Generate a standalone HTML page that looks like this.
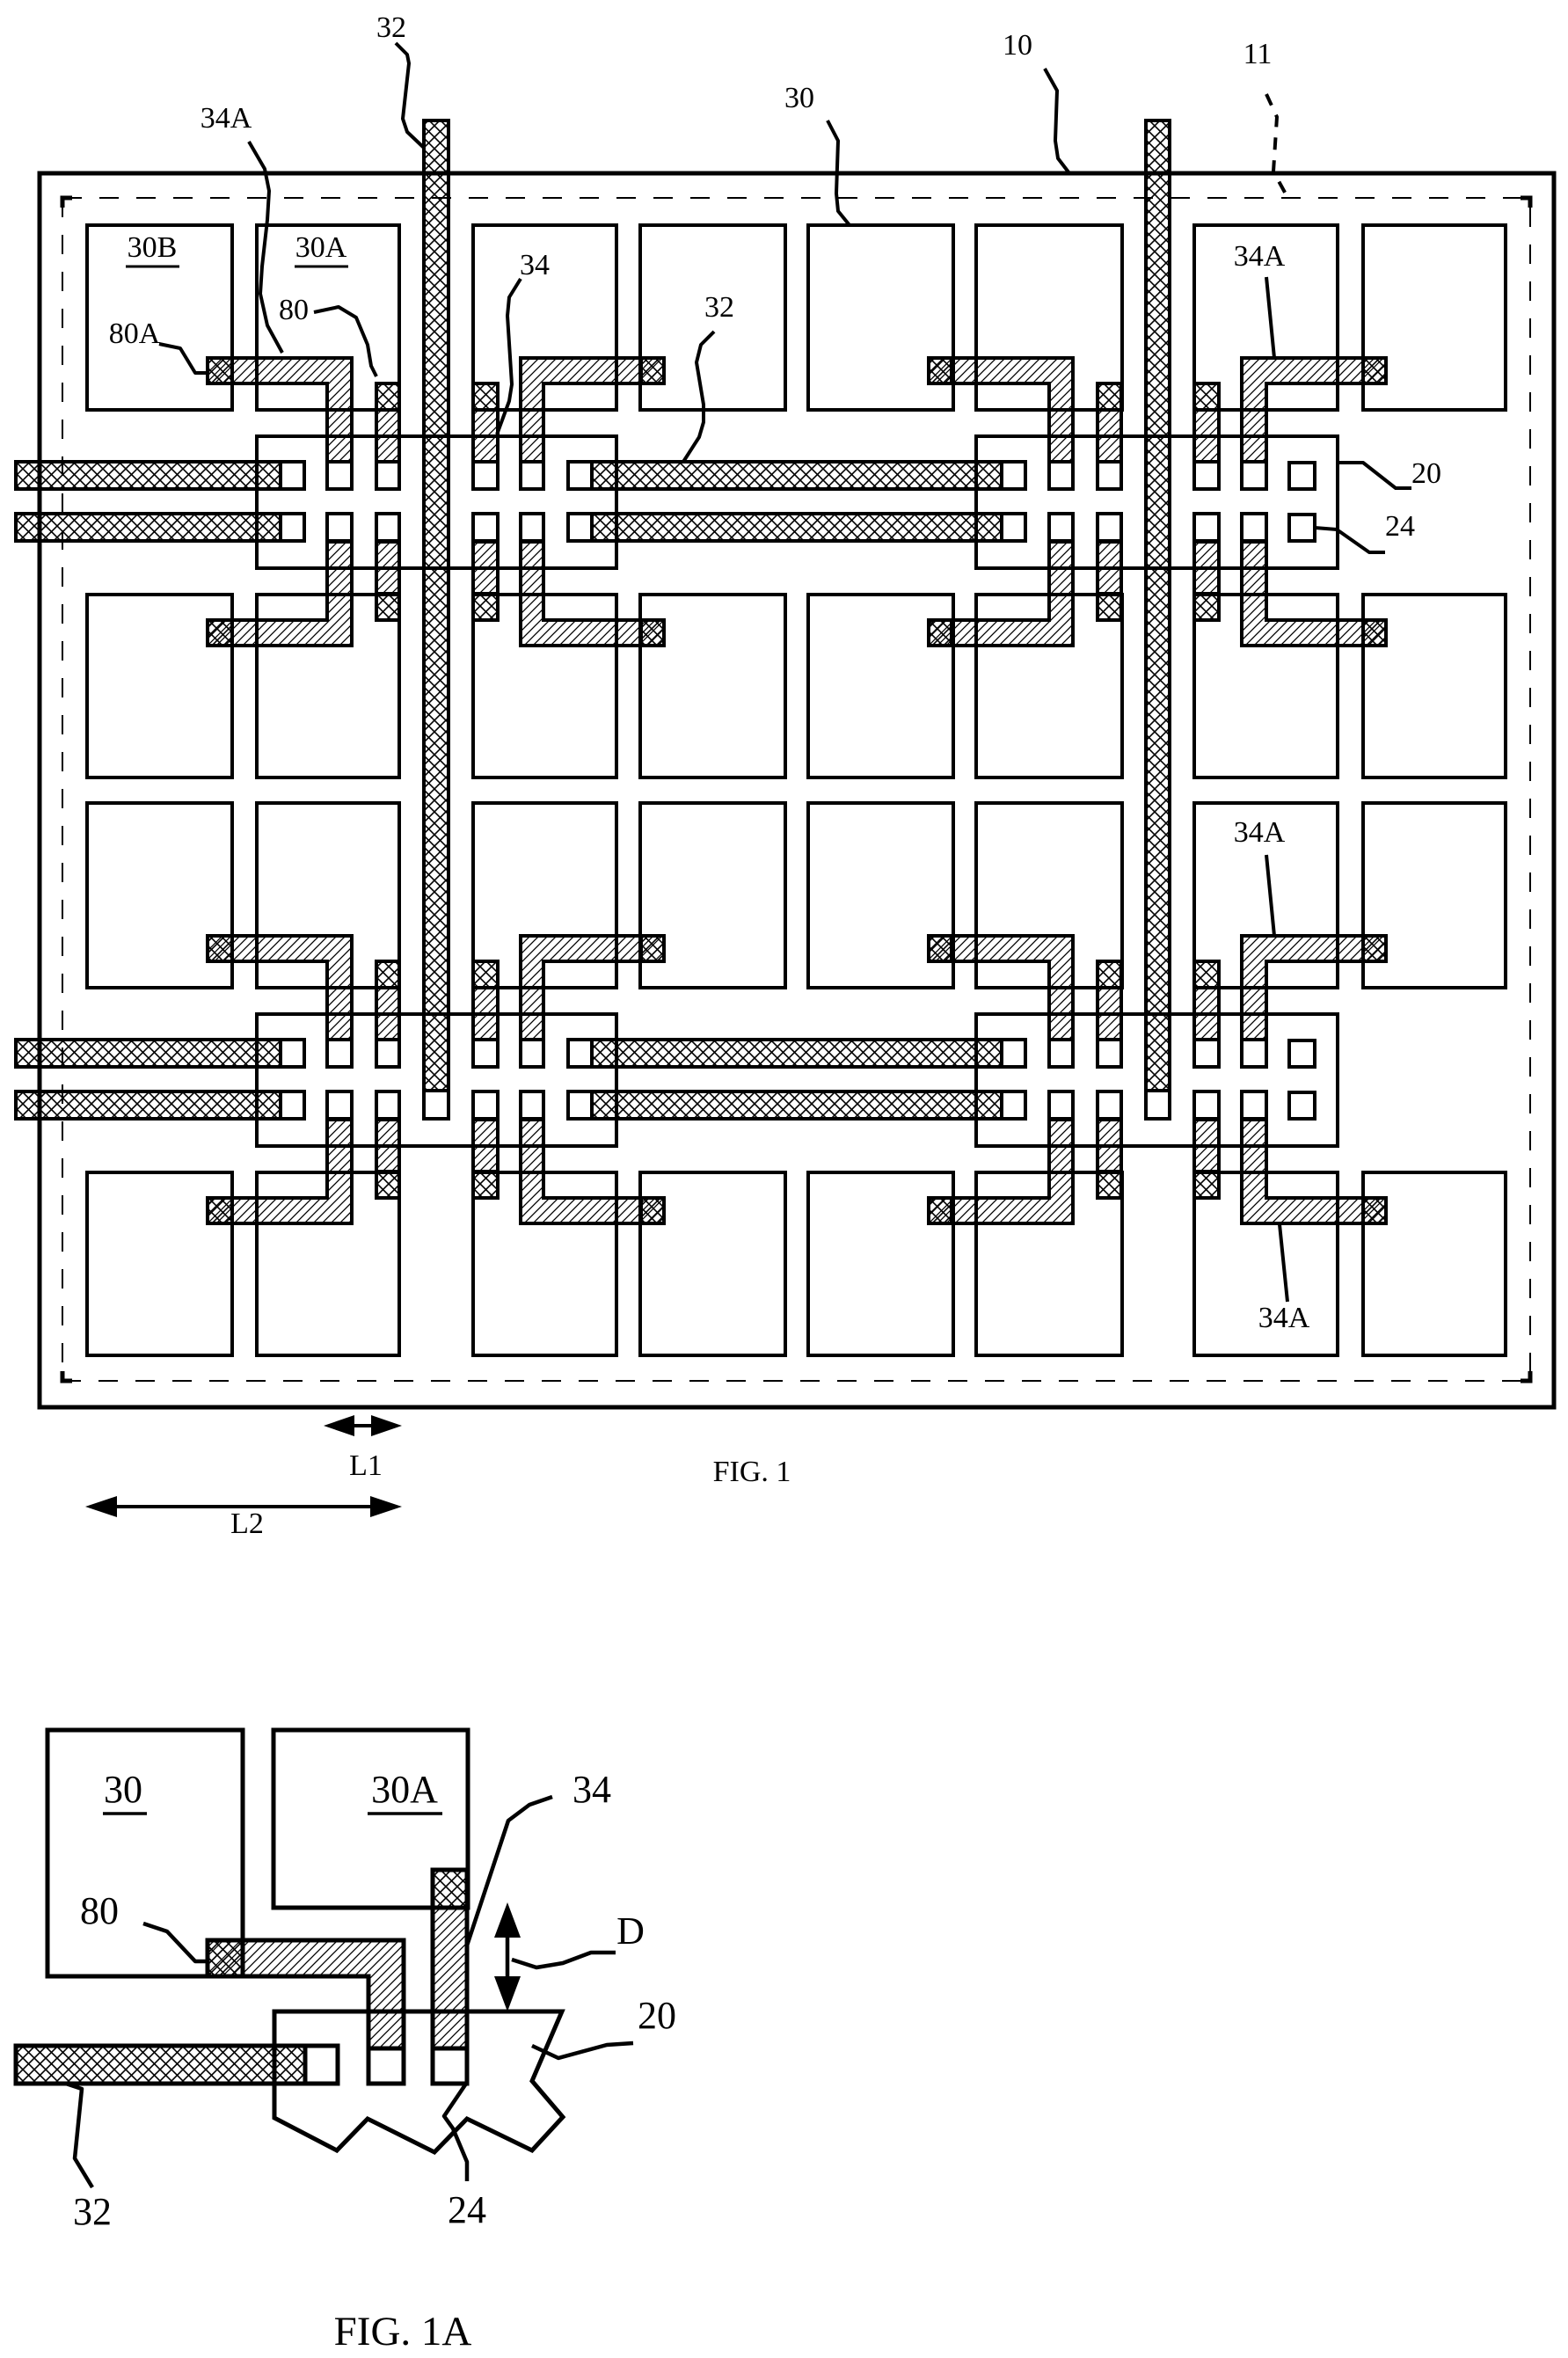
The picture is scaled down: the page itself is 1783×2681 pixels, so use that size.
<!DOCTYPE html>
<html><head><meta charset="utf-8"><style>
html,body{margin:0;padding:0;background:#fff;}
svg{display:block;}
text{font-family:"Liberation Serif",serif;fill:#000;}
</style></head><body>
<svg width="1783" height="2681" viewBox="0 0 1783 2681" xmlns="http://www.w3.org/2000/svg">
<defs>
<pattern id="h" patternUnits="userSpaceOnUse" width="10" height="10">
<path d="M-2,12 L12,-2 M-2,2 L2,-2 M8,12 L12,8" stroke="#000" stroke-width="1.3"/>
</pattern>
<pattern id="x" patternUnits="userSpaceOnUse" width="13" height="13">
<path d="M0,0 L13,13 M13,0 L0,13" stroke="#000" stroke-width="1.6"/>
</pattern>
<g id="half">
<!-- boxes rows -->
<g fill="#fff" stroke="#000" stroke-width="4">
<rect x="99" y="256" width="165" height="210"/><rect x="292" y="256" width="162" height="210"/><rect x="538" y="256" width="163" height="210"/><rect x="728" y="256" width="165" height="210"/><rect x="919" y="256" width="165" height="210"/><rect x="1110" y="256" width="166" height="210"/><rect x="1358" y="256" width="163" height="210"/><rect x="1550" y="256" width="162" height="210"/>
<rect x="99" y="676" width="165" height="208"/><rect x="292" y="676" width="162" height="208"/><rect x="538" y="676" width="163" height="208"/><rect x="728" y="676" width="165" height="208"/><rect x="919" y="676" width="165" height="208"/><rect x="1110" y="676" width="166" height="208"/><rect x="1358" y="676" width="163" height="208"/><rect x="1550" y="676" width="162" height="208"/>
</g>
<g fill="none" stroke="#000" stroke-width="4">
<rect x="292" y="496" width="409" height="150"/><rect x="1110" y="496" width="411" height="150"/>
</g>
<g stroke="#000" stroke-width="4">
<!-- upper gates -->
<path d="M236,407 H400 V525 H372 V436 H236 Z" fill="url(#h)"/><rect x="236" y="407" width="28" height="29" fill="url(#x)"/>
<rect x="428" y="436" width="26" height="30" fill="url(#x)"/><rect x="428" y="466" width="26" height="59" fill="url(#h)"/>
<rect x="538" y="436" width="28" height="30" fill="url(#x)"/><rect x="538" y="466" width="28" height="59" fill="url(#h)"/>
<path d="M755,407 H592 V525 H618 V436 H755 Z" fill="url(#h)"/><rect x="729" y="407" width="26" height="29" fill="url(#x)"/>
<path d="M1056,407 H1220 V525 H1193 V436 H1056 Z" fill="url(#h)"/><rect x="1056" y="407" width="26" height="29" fill="url(#x)"/>
<rect x="1248" y="436" width="27" height="30" fill="url(#x)"/><rect x="1248" y="466" width="27" height="59" fill="url(#h)"/>
<rect x="1358" y="436" width="28" height="30" fill="url(#x)"/><rect x="1358" y="466" width="28" height="59" fill="url(#h)"/>
<path d="M1576,407 H1412 V525 H1440 V436 H1576 Z" fill="url(#h)"/><rect x="1550" y="407" width="26" height="29" fill="url(#x)"/>
<!-- lower gates -->
<path d="M236,734 H400 V616 H372 V705 H236 Z" fill="url(#h)"/><rect x="236" y="705" width="28" height="29" fill="url(#x)"/>
<rect x="428" y="675" width="26" height="30" fill="url(#x)"/><rect x="428" y="616" width="26" height="59" fill="url(#h)"/>
<rect x="538" y="675" width="28" height="30" fill="url(#x)"/><rect x="538" y="616" width="28" height="59" fill="url(#h)"/>
<path d="M755,734 H592 V616 H618 V705 H755 Z" fill="url(#h)"/><rect x="729" y="705" width="26" height="29" fill="url(#x)"/>
<path d="M1056,734 H1220 V616 H1193 V705 H1056 Z" fill="url(#h)"/><rect x="1056" y="705" width="26" height="29" fill="url(#x)"/>
<rect x="1248" y="675" width="27" height="30" fill="url(#x)"/><rect x="1248" y="616" width="27" height="59" fill="url(#h)"/>
<rect x="1358" y="675" width="28" height="30" fill="url(#x)"/><rect x="1358" y="616" width="28" height="59" fill="url(#h)"/>
<path d="M1576,734 H1412 V616 H1440 V705 H1576 Z" fill="url(#h)"/><rect x="1550" y="705" width="26" height="29" fill="url(#x)"/>
<!-- contacts -->
<g fill="#fff">
<rect x="372" y="525" width="28" height="31"/><rect x="428" y="525" width="26" height="31"/><rect x="538" y="525" width="28" height="31"/><rect x="592" y="525" width="26" height="31"/>
<rect x="1193" y="525" width="27" height="31"/><rect x="1248" y="525" width="27" height="31"/><rect x="1358" y="525" width="28" height="31"/><rect x="1412" y="525" width="28" height="31"/><rect x="1466" y="526" width="29" height="30"/>
<rect x="372" y="584" width="28" height="31"/><rect x="428" y="584" width="26" height="31"/><rect x="538" y="584" width="28" height="31"/><rect x="592" y="584" width="26" height="31"/>
<rect x="1193" y="584" width="27" height="31"/><rect x="1248" y="584" width="27" height="31"/><rect x="1358" y="584" width="28" height="31"/><rect x="1412" y="584" width="28" height="31"/><rect x="1466" y="585" width="29" height="30"/>
<rect x="319" y="525" width="27" height="31"/><rect x="319" y="584" width="27" height="31"/>
<rect x="646" y="525" width="27" height="31"/><rect x="646" y="584" width="27" height="31"/>
<rect x="1139" y="525" width="27" height="31"/><rect x="1139" y="584" width="27" height="31"/>
</g>
<rect x="18" y="525" width="301" height="31" fill="url(#x)"/><rect x="18" y="584" width="301" height="31" fill="url(#x)"/>
<rect x="673" y="525" width="466" height="31" fill="url(#x)"/><rect x="673" y="584" width="466" height="31" fill="url(#x)"/>
</g>
</g>
</defs>

<!-- FIG 1 -->
<rect x="45" y="197" width="1722" height="1403" fill="none" stroke="#000" stroke-width="5"/>
<rect x="71" y="225" width="1669" height="1345" fill="none" stroke="#000" stroke-width="2" stroke-dasharray="22 20"/>
<path d="M71,236 V225 H82 M1729,225 H1740 V236 M1740,1559 V1570 H1729 M82,1570 H71 V1559" fill="none" stroke="#000" stroke-width="5"/>
<use href="#half"/>
<use href="#half" transform="translate(0,657)"/>
<g stroke="#000" stroke-width="4">
<rect x="482" y="137" width="28" height="1103" fill="url(#x)"/><rect x="482" y="1240" width="28" height="32" fill="#fff"/>
<rect x="1303" y="137" width="27" height="1103" fill="url(#x)"/><rect x="1303" y="1240" width="27" height="32" fill="#fff"/>
</g>

<!-- leaders fig1 -->
<g fill="none" stroke="#000" stroke-width="4" stroke-linejoin="round">
<path d="M450,49 L463,62 L465,72 L458,135 L463,150 L482,168"/>
<path d="M283,161 L301,192 L306,217 L304,250 L298,303 L296,334 L304,370 L321,401"/>
<path d="M941,137 L953,160 L951,220 L953,240 L966,256"/>
<path d="M592,317 L579,338 L577,359 L582,437 L579,456 L565,494"/>
<path d="M812,377 L797,392 L792,412 L800,460 L800,480 L795,497 L777,525"/>
<path d="M357,355 L385,349 L405,361 L418,392 L422,416 L428,428"/>
<path d="M181,391 L205,396 L222,424 L236,424"/>
<path d="M1188,78 L1202,103 L1200,160 L1203,180 L1216,197"/>
<path d="M1440,107 L1452,133 L1448,195 L1465,226" stroke-dasharray="14 12"/>
<path d="M1440,315 L1449,407"/>
<path d="M1522,526 L1550,526 L1587,555 L1605,555"/>
<path d="M1495,600 L1520,602 L1557,628 L1575,628"/>
<path d="M1440,972 L1449,1064"/>
<path d="M1455,1392 L1464,1480"/>
<path d="M390,1621 L435,1621 M110,1713 L440,1713"/>
</g>
<g fill="#000">
<path d="M368,1621 L403,1609 L403,1633 Z"/><path d="M457,1621 L422,1609 L422,1633 Z"/>
<path d="M97,1713 L133,1701 L133,1725 Z"/><path d="M457,1713 L421,1701 L421,1725 Z"/>
</g>
<g font-size="34" text-anchor="middle">
<text x="445" y="42">32</text>
<text x="257" y="145">34A</text>
<text x="173" y="292">30B</text>
<text x="365" y="292">30A</text>
<text x="153" y="390">80A</text>
<text x="334" y="363">80</text>
<text x="608" y="312">34</text>
<text x="818" y="360">32</text>
<text x="909" y="122">30</text>
<text x="1157" y="62">10</text>
<text x="1430" y="72">11</text>
<text x="1432" y="302">34A</text>
<text x="1622" y="549">20</text>
<text x="1592" y="609">24</text>
<text x="1432" y="957">34A</text>
<text x="1460" y="1509">34A</text>
<text x="416" y="1677">L1</text>
<text x="281" y="1743">L2</text>
<text x="855" y="1684">FIG. 1</text>
</g>
<g stroke="#000" stroke-width="3"><path d="M143,303 H204 M335,303 H396"/></g>

<!-- FIG 1A -->
<g stroke="#000" stroke-width="5" stroke-linejoin="miter">
<rect x="54" y="1967" width="222" height="280" fill="#fff"/>
<rect x="311" y="1967" width="221" height="202" fill="#fff"/>
<path d="M312,2287 L639,2287 L605,2366 L640,2407 L605,2445 L531,2409 L494,2447 L418,2409 L383,2445 L312,2408 Z" fill="none"/>
<path d="M236,2206 H459 V2329 H419 V2247 H236 Z" fill="url(#h)"/>
<rect x="236" y="2206" width="40" height="41" fill="url(#x)"/>
<rect x="419" y="2329" width="40" height="40" fill="#fff"/>
<rect x="492" y="2126" width="39" height="43" fill="url(#x)"/>
<rect x="492" y="2169" width="39" height="160" fill="url(#h)"/>
<rect x="492" y="2329" width="39" height="40" fill="#fff"/>
<rect x="18" y="2326" width="329" height="43" fill="url(#x)"/>
<rect x="347" y="2326" width="37" height="43" fill="#fff"/>
</g>
<g fill="none" stroke="#000" stroke-width="4.5" stroke-linejoin="round">
<path d="M163,2187 L190,2196 L222,2230 L236,2230"/>
<path d="M628,2043 L602,2052 L578,2070 L531,2212"/>
<path d="M582,2228 L610,2237 L640,2232 L672,2220 L700,2220"/>
<path d="M720,2323 L690,2325 L635,2340 L605,2326"/>
<path d="M531,2480 L531,2458 L515,2420 L505,2406 L530,2369"/>
<path d="M105,2487 L85,2454 L93,2375 L75,2369"/>
<path d="M577,2200 L577,2250"/>
</g>
<g fill="#000">
<path d="M577,2163 L562,2203 L592,2203 Z"/><path d="M577,2287 L562,2247 L592,2247 Z"/>
</g>
<g font-size="44" text-anchor="middle">
<text x="140" y="2049">30</text>
<text x="460" y="2049">30A</text>
<text x="673" y="2049">34</text>
<text x="717" y="2210">D</text>
<text x="747" y="2306">20</text>
<text x="113" y="2187">80</text>
<text x="105" y="2529">32</text>
<text x="531" y="2527">24</text>
</g>
<g stroke="#000" stroke-width="3.5"><path d="M117,2062 H167 M418,2062 H503"/></g>
<text x="458" y="2666" font-size="47" text-anchor="middle">FIG. 1A</text>
</svg>
</body></html>
